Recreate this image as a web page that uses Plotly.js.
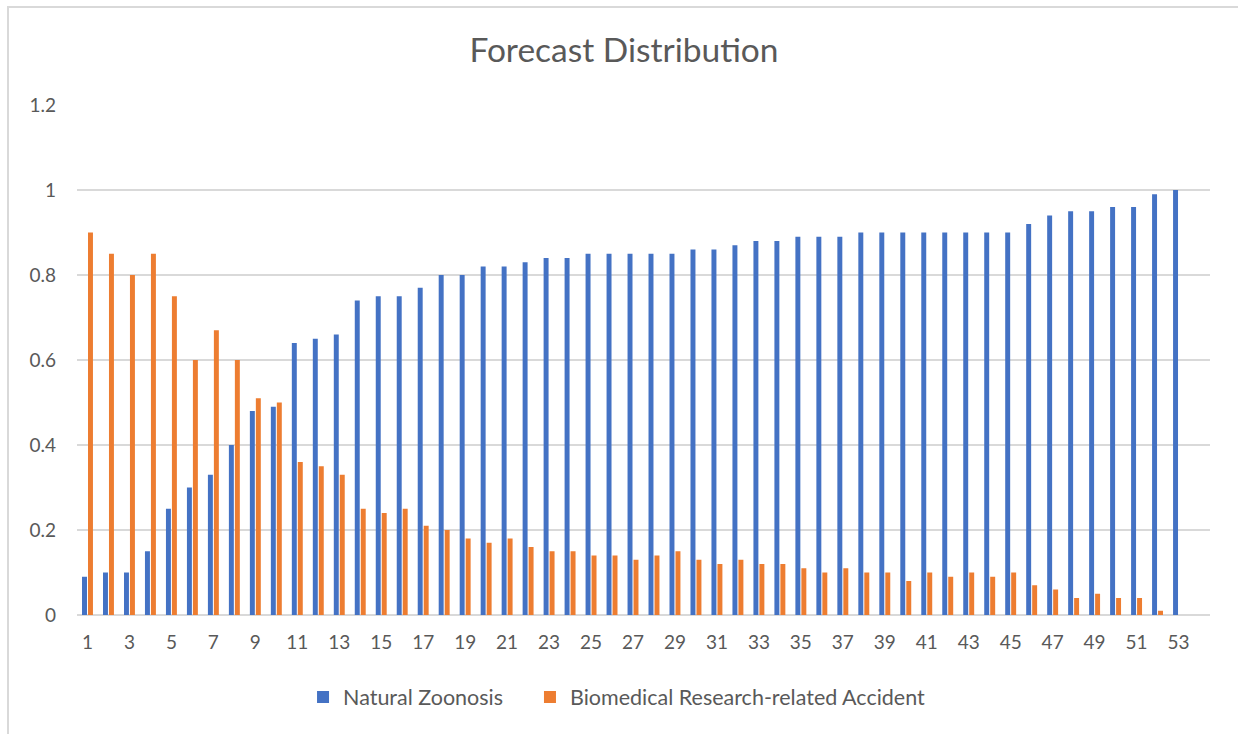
<!DOCTYPE html>
<html>
<head>
<meta charset="utf-8">
<script src="https://cdn.plot.ly/plotly-3.0.1.min.js"></script>
<style>
html,body{margin:0;padding:0;background:#fff;}
#chart{width:1238px;height:734px;}
</style>
</head>
<body>
<div id="chart"></div>
<script>
// Category labels (1..53, plus an empty 54th slot as in the reference)
const categories = Array.from({length: 53}, (_, i) => i + 1);
const tickLabels = [1,3,5,7,9,11,13,15,17,19,21,23,25,27,29,31,33,35,37,39,41,43,45,47,49,51,53];

const naturalZoonosis = [
  0.09, 0.10, 0.10, 0.15, 0.25, 0.30, 0.33, 0.40, 0.48, 0.49,
  0.64, 0.65, 0.66, 0.74, 0.75, 0.75, 0.77, 0.80, 0.80, 0.82,
  0.82, 0.83, 0.84, 0.84, 0.85, 0.85, 0.85, 0.85, 0.85, 0.86,
  0.86, 0.87, 0.88, 0.88, 0.89, 0.89, 0.89, 0.90, 0.90, 0.90,
  0.90, 0.90, 0.90, 0.90, 0.90, 0.92, 0.94, 0.95, 0.95, 0.96,
  0.96, 0.99, 1.00
];
const biomedicalAccident = [
  0.90, 0.85, 0.80, 0.85, 0.75, 0.60, 0.67, 0.60, 0.51, 0.50,
  0.36, 0.35, 0.33, 0.25, 0.24, 0.25, 0.21, 0.20, 0.18, 0.17,
  0.18, 0.16, 0.15, 0.15, 0.14, 0.14, 0.13, 0.14, 0.15, 0.13,
  0.12, 0.13, 0.12, 0.12, 0.11, 0.10, 0.11, 0.10, 0.10, 0.08,
  0.10, 0.09, 0.10, 0.09, 0.10, 0.07, 0.06, 0.04, 0.05, 0.04,
  0.04, 0.01, 0
];

const FONT = 'Lato, "Open Sans", sans-serif';
const TXT = '#595959';

const traces = [
  {type: 'bar', name: 'Natural Zoonosis', x: categories, y: naturalZoonosis,
   marker: {color: '#4472C4', line: {width: 0}}, hoverinfo: 'x+y', legend: 'legend'},
  {type: 'bar', name: 'Biomedical Research-related Accident', x: categories, y: biomedicalAccident,
   marker: {color: '#ED7D31', line: {width: 0}}, hoverinfo: 'x+y', legend: 'legend2'}
];

const legendBase = {orientation: 'h', yanchor: 'middle', y: -0.161, xanchor: 'left',
  font: {family: FONT, size: 21.5, color: TXT}, itemwidth: 30, bgcolor: 'rgba(0,0,0,0)'};

const layout = {
  width: 1238, height: 734,
  paper_bgcolor: '#ffffff', plot_bgcolor: '#ffffff',
  font: {family: FONT, color: TXT, size: 19},
  margin: {l: 77, r: 28, t: 105, b: 119, pad: 0},
  title: {text: 'Forecast Distribution', font: {family: FONT, size: 33.5, color: TXT},
          x: 0.504, xanchor: 'center', y: 0.932, yanchor: 'middle', xref: 'container', yref: 'container'},
  barmode: 'group', bargap: 0.43, bargroupgap: 0.17,
  showlegend: true,
  legend: Object.assign({}, legendBase, {x: 0.1995}),
  legend2: Object.assign({}, legendBase, {x: 0.3998}),
  xaxis: {
    range: [0.5, 54.5], tickmode: 'array', tickvals: tickLabels, ticktext: tickLabels.map(String),
    showgrid: false, zeroline: false, showline: false, ticks: '',
    ticklabelstandoff: 14, tickfont: {family: FONT, size: 19, color: TXT}, fixedrange: true
  },
  yaxis: {
    range: [0, 1.2], tickmode: 'linear', tick0: 0, dtick: 0.2,
    showgrid: true, gridcolor: '#d9d9d9', gridwidth: 1.5,
    zeroline: true, zerolinecolor: '#d9d9d9', zerolinewidth: 1.5,
    showline: false, ticks: '', ticklabelstandoff: 20,
    tickfont: {family: FONT, size: 19, color: TXT}, fixedrange: true
  },
  shapes: [
    {type: 'rect', xref: 'paper', yref: 'paper', x0: -0.0609, x1: 1.06, y0: -0.32, y1: 1.1922,
     line: {color: '#d9d9d9', width: 2}, fillcolor: 'rgba(0,0,0,0)', layer: 'below'}
  ]
};

Plotly.newPlot('chart', traces, layout, {displayModeBar: false, staticPlot: true});
</script>
</body>
</html>
